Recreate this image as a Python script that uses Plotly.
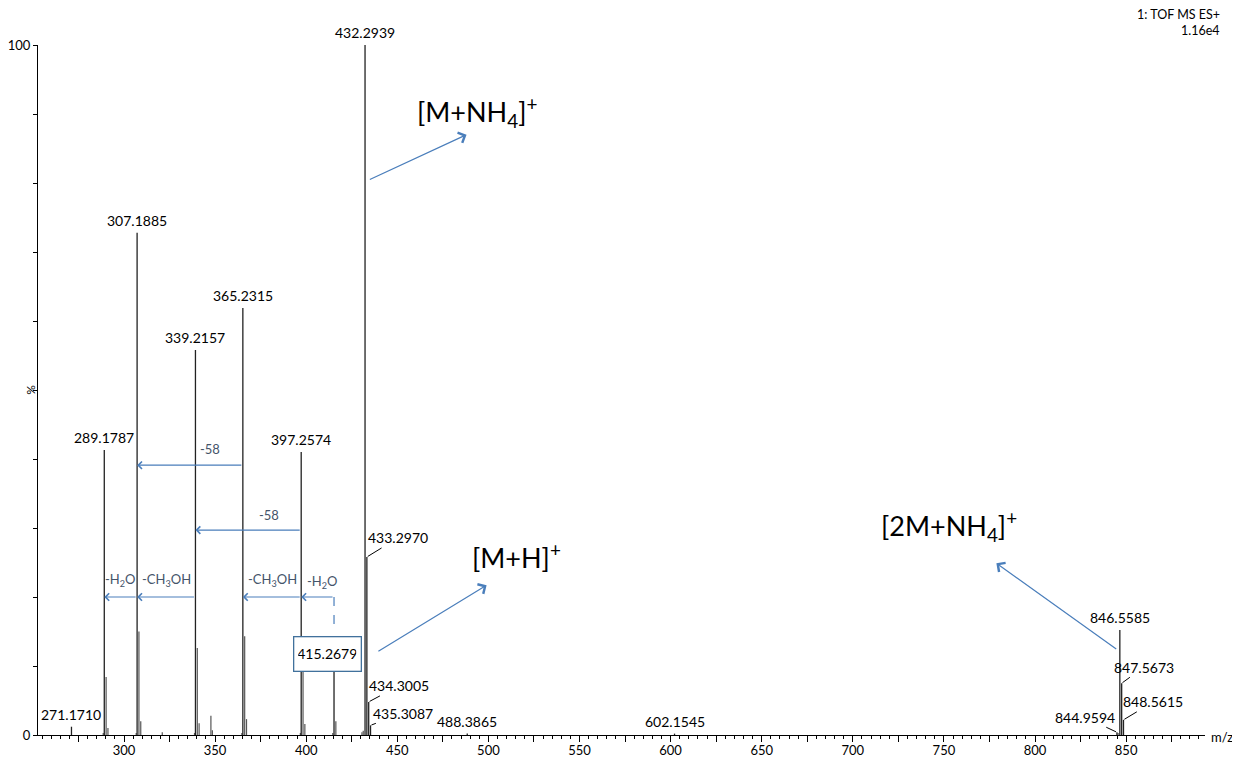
import plotly.graph_objects as go

# ---- data ----
label_mz = [271.1710, 289.1787, 307.1885, 339.2157, 365.2315, 397.2574, 415.2679,
            432.2939, 433.2970, 434.3005, 435.3087, 488.3865, 602.1545,
            844.9594, 846.5585, 847.5673, 848.5615]
label_int = [1.2, 41.3, 72.8, 55.8, 61.9, 41.0, 9.8,
             100.0, 25.8, 4.8, 1.4, 0.2, 0.2,
             0.4, 15.2, 7.5, 2.2]

minor_mz = [288.6, 290.182, 291.185, 306.7, 308.192, 309.195, 321.0, 338.7, 340.219,
            341.222, 347.7, 348.5, 364.7, 366.235, 367.238, 396.8, 398.261, 399.264,
            414.6, 416.271, 430.6, 431.3, 845.6]
minor_int = [0.3, 8.4, 1.0, 0.3, 15.0, 2.0, 0.4, 0.3, 12.6,
             1.7, 2.8, 0.7, 0.3, 14.3, 2.3, 0.3, 9.6, 1.6,
             0.3, 2.0, 0.4, 0.6, 0.3]

# labels drawn straight above the peak
above_labels = ["271.1710", "289.1787", "307.1885", "339.2157", "365.2315", "397.2574",
                "432.2939", "488.3865", "602.1545", "846.5585"]
# labels with leader lines: (label, dx px, dy px)
leader_labels = [("433.2970", 31, -19), ("434.3005", 30, -16), ("435.3087", 32, -12),
                 ("844.9594", -32, -15), ("847.5673", 22, -16), ("848.5615", 30, -18)]

# fragment arrows: (from m/z, to m/z, level %, label, label m/z, label level)
losses = [(365.2315, 307.1885, 39.1, "-58", 347.4, 41.4),
          (397.2574, 339.2157, 29.7, "-58", 379.4, 31.9),
          (339.2157, 307.1885, 20.0, "-CH<sub>3</sub>OH", 323.4, 22.5),
          (307.1885, 289.1787, 20.0, "-H<sub>2</sub>O", 297.6, 22.5),
          (397.2574, 365.2315, 20.0, "-CH<sub>3</sub>OH", 381.4, 22.5),
          (415.2679, 397.2574, 20.0, "-H<sub>2</sub>O", 408.6, 22.2)]

# ion assignments: (text, text m/z, text level, arrow tail m/z, tail level, head m/z, head level)
ions = [("[M+NH<sub>4</sub>]<sup>+</sup>", 494.0, 90.3, 434.1, 80.4, 488.0, 87.0),
        ("[M+H]<sup>+</sup>", 515.5, 25.9, 438.8, 12.0, 499.0, 21.7),
        ("[2M+NH<sub>4</sub>]<sup>+</sup>", 753.0, 30.3, 845.4, 12.3, 778.8, 24.9)]

x_range = [252.8, 893.3]
major_ticks = list(range(275, 900, 25))
major_text = [str(v) if v % 50 == 0 else " " for v in major_ticks]
y_ticks = list(range(0, 101, 10))
y_text = [str(v) if v in (0, 100) else " " for v in y_ticks]

FONT = "Lato, 'Open Sans', sans-serif"
BLUE = "#4A7EBB"
TXTBLUE = "#44546A"


def stems(xs, ys):
    sx, sy = [], []
    for a, b in zip(xs, ys):
        sx += [a, a, None]
        sy += [0, b, None]
    return sx, sy


fig = go.Figure()
mx, my = stems(minor_mz, minor_int)
fig.add_trace(go.Scatter(x=mx, y=my, mode="lines", line=dict(color="#555555", width=1.2),
                         hoverinfo="skip", showlegend=False))
lx, ly = stems(label_mz, label_int)
fig.add_trace(go.Scatter(x=lx, y=ly, mode="lines", line=dict(color="#222222", width=1.3),
                         hoverinfo="skip", showlegend=False))

ann = []
lookup = {f"{m:.4f}": (m, h) for m, h in zip(label_mz, label_int)}
for lab in above_labels:
    m, h = lookup[lab]
    ann.append(dict(x=m, y=h, text=lab, showarrow=False, yanchor="bottom", yshift=2,
                    font=dict(family=FONT, size=14, color="black")))
for lab, dx, dy in leader_labels:
    m, h = lookup[lab]
    ann.append(dict(x=m, y=h, text=lab, showarrow=True, arrowhead=0, arrowwidth=1,
                    arrowcolor="black", ax=dx, ay=dy, standoff=1,
                    font=dict(family=FONT, size=14, color="black")))

# boxed 415.2679 label
ann.append(dict(x=411.6, y=11.7, text="415.2679", showarrow=False, width=58, height=25,
                borderpad=4, bordercolor="#41719C", borderwidth=1.3, bgcolor="white",
                font=dict(family=FONT, size=14, color="black")))

for a, b, lvl, txt, tm, tl in losses:
    ann.append(dict(x=b, y=lvl, ax=a, ay=lvl, axref="x", ayref="y", xref="x", yref="y",
                    text="", showarrow=True, arrowhead=4, arrowsize=1.2, arrowwidth=1.2,
                    arrowcolor=BLUE, standoff=0))
    ann.append(dict(x=tm, y=tl, text=txt, showarrow=False,
                    font=dict(family=FONT, size=13, color=TXTBLUE)))

for txt, tm, tl, am, al, hm, hl in ions:
    ann.append(dict(x=hm, y=hl, ax=am, ay=al, axref="x", ayref="y", xref="x", yref="y",
                    text="", showarrow=True, arrowhead=4, arrowsize=1.8, arrowwidth=1.2,
                    arrowcolor=BLUE, standoff=0))
    ann.append(dict(x=tm, y=tl, text=txt, showarrow=False,
                    font=dict(family=FONT, size=27, color="black")))

# header / axis titles
ann.append(dict(xref="paper", yref="paper", x=1.0146, y=1.0435, text="1: TOF MS ES+",
                showarrow=False, xanchor="right", yanchor="middle",
                font=dict(family=FONT, size=12.5, color="black")))
ann.append(dict(xref="paper", yref="paper", x=1.0146, y=1.0217, text="1.16e4",
                showarrow=False, xanchor="right", yanchor="middle",
                font=dict(family=FONT, size=12.5, color="black")))
ann.append(dict(xref="paper", yref="paper", x=1.0146, y=-0.003, text="m/z",
                showarrow=False, xanchor="center", yanchor="middle",
                font=dict(family=FONT, size=13, color="black")))
ann.append(dict(xref="paper", yref="paper", x=-0.007, y=0.5, text="%", textangle=-90,
                showarrow=False, xanchor="center", yanchor="middle",
                font=dict(family=FONT, size=12, color="black")))

shapes = [dict(type="line", xref="x", yref="y", x0=415.2679, x1=415.2679, y0=20.0, y1=15.2,
               line=dict(color=BLUE, width=1.2, dash="dash"))]

# page body has an 8px margin: shrink the figure so the plot area sits where the reference's does
fig.update_layout(
    width=1232, height=750,
    margin=dict(l=30, r=35, t=37, b=23, autoexpand=False),
    paper_bgcolor="white", plot_bgcolor="white",
    annotations=ann, shapes=shapes,
    showlegend=False,
    font=dict(family=FONT, size=13, color="black"),
    xaxis=dict(range=x_range, showgrid=False, zeroline=False, showline=True, automargin=False,
               linecolor="black", linewidth=1, ticks="outside", ticklen=6, tickwidth=1,
               tickcolor="black", tickmode="array", tickvals=major_ticks, ticktext=major_text,
               ticklabelstandoff=-3,
               tickfont=dict(family=FONT, size=13, color="black"),
               minor=dict(ticks="outside", ticklen=3, tickwidth=1, tickcolor="black",
                          tickmode="linear", tick0=0, dtick=5)),
    yaxis=dict(range=[0, 100], showgrid=False, zeroline=False, showline=True, automargin=False,
               linecolor="black", linewidth=1, ticks="outside", ticklen=4, tickwidth=1,
               tickcolor="black", tickmode="array", tickvals=y_ticks, ticktext=y_text,
               tickfont=dict(family=FONT, size=13, color="black")),
)

fig.write_html("out.html")
